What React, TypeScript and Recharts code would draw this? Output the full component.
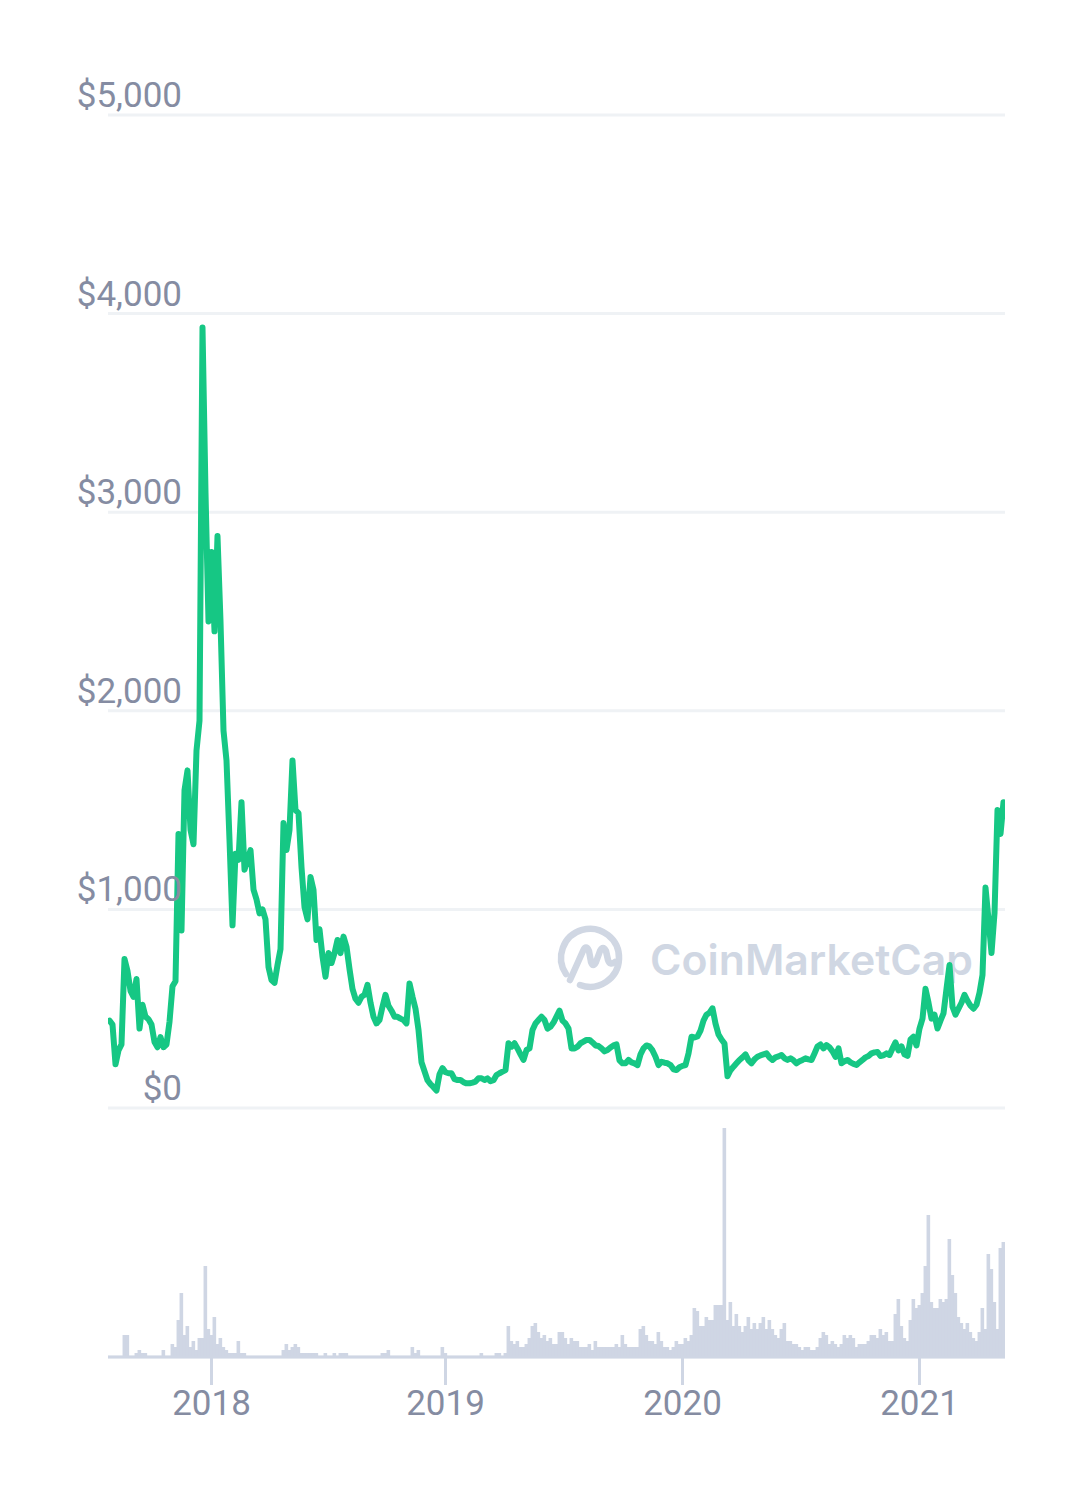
import { ComposedChart, Bar, Line, XAxis, YAxis, CartesianGrid } from 'recharts';

// price in USD, one reading per volume bar (about every 4.7 days, Jul 2017 - May 2021)
const price = [
  440, 420, 220, 290, 320, 750, 690, 590, 560, 650, 400, 520, 460, 447, 420, 332, 306, 357, 306, 320,
  434, 613, 638, 1380, 894, 1600, 1700, 1400, 1328, 1800, 1950, 3930, 3100, 2450, 2800, 2400, 2880, 2450, 1900, 1750,
  1350, 920, 1280, 1250, 1540, 1200, 1250, 1299, 1100, 1050, 980, 1000, 950, 710, 644, 630, 720, 800, 1435, 1299,
  1400, 1750, 1500, 1485, 1213, 1012, 950, 1163, 1098, 846, 900, 762, 661, 780, 730, 780, 846, 780, 863, 812,
  700, 600, 550, 530, 560, 570, 620, 530, 459, 426, 443, 510, 570, 515, 490, 460, 459, 450, 443, 426,
  627, 560, 500, 393, 230, 185, 140, 120, 105, 88, 170, 201, 180, 175, 175, 145, 141, 141, 130, 124,
  124, 128, 133, 150, 150, 141, 149, 135, 140, 166, 175, 183, 191, 326, 309, 326, 300, 270, 242, 292,
  300, 393, 426, 443, 460, 443, 400, 409, 430, 460, 490, 440, 426, 400, 300, 300, 309, 326, 334, 343,
  343, 330, 315, 312, 300, 285, 292, 305, 315, 320, 240, 225, 225, 242, 230, 225, 216, 270, 300, 315,
  310, 290, 258, 216, 233, 228, 225, 216, 195, 191, 205, 212, 216, 275, 359, 355, 360, 390, 440, 470,
  480, 502, 425, 370, 345, 325, 160, 190, 208, 225, 242, 255, 270, 240, 225, 245, 258, 265, 270, 275,
  255, 242, 255, 260, 267, 250, 242, 250, 240, 225, 235, 242, 250, 245, 242, 275, 310, 320, 300, 317,
  305, 285, 258, 300, 225, 235, 242, 230, 222, 217, 230, 242, 255, 262, 275, 280, 282, 262, 265, 275,
  267, 300, 330, 290, 310, 270, 262, 345, 359, 315, 400, 450, 600, 530, 450, 470, 400, 440, 477, 600,
  720, 510, 470, 500, 530, 570, 540, 515, 500, 520, 580, 670, 1110, 950, 780, 980, 1500, 1380, 1540,
];

// traded volume, relative units
const volume = [
  1, 1, 1, 1, 1, 22, 22, 1, 1, 4, 7, 4, 4, 1, 1, 1, 1, 1, 7, 1,
  1, 13, 10, 37, 64, 22, 31, 10, 16, 7, 19, 19, 91, 28, 22, 40, 13, 19, 10, 7,
  4, 4, 4, 16, 4, 4, 1, 1, 1, 1, 1, 1, 1, 1, 1, 1, 1, 1, 7, 13,
  7, 10, 13, 10, 4, 4, 4, 4, 4, 4, 1, 1, 4, 1, 1, 4, 1, 4, 4, 4,
  1, 1, 1, 1, 1, 1, 1, 1, 1, 1, 1, 4, 4, 7, 1, 1, 1, 1, 1, 1,
  1, 10, 4, 7, 1, 1, 1, 1, 1, 1, 1, 10, 4, 1, 1, 1, 1, 1, 1, 1,
  1, 1, 1, 1, 4, 1, 1, 1, 1, 4, 4, 1, 4, 31, 16, 13, 16, 10, 10, 13,
  19, 31, 34, 25, 19, 22, 16, 19, 13, 13, 25, 25, 19, 13, 19, 16, 16, 10, 10, 10,
  13, 7, 16, 10, 10, 10, 10, 10, 10, 13, 10, 22, 13, 10, 10, 10, 10, 28, 31, 22,
  16, 16, 13, 25, 16, 10, 10, 7, 10, 16, 13, 13, 19, 16, 22, 49, 46, 31, 31, 40,
  37, 37, 52, 52, 52, 229, 37, 55, 31, 43, 31, 25, 31, 40, 28, 34, 28, 34, 40, 28,
  37, 28, 22, 19, 28, 34, 16, 16, 13, 13, 10, 7, 10, 10, 7, 7, 10, 19, 25, 22,
  13, 16, 13, 10, 13, 22, 19, 22, 19, 10, 13, 13, 13, 16, 22, 22, 19, 28, 22, 25,
  16, 16, 43, 58, 31, 19, 16, 37, 58, 49, 52, 64, 91, 142, 55, 49, 49, 58, 55, 58,
  118, 82, 64, 40, 34, 28, 34, 25, 19, 16, 25, 49, 28, 103, 88, 55, 28, 109, 115,
];

const years = ['2018', '2019', '2020', '2021'];
const yearStart = [34, 112, 191, 270];
const priceTicks = [0, 1000, 2000, 3000, 4000, 5000];

const rows = price.map((p, i) => ({ i, price: p, vol: volume[i] }));

const W = 1080;
const H = 1496;
const TOP = 115;
const BOTTOM = 1357;
const ZERO = 1108;
const LEFT = 108;
const RIGHT = 1005;
const Y_AXIS_W = 60;
const X_AXIS_H = 80;
const plotH = BOTTOM - TOP;
const priceMin = (-(BOTTOM - ZERO) * 5000) / (ZERO - TOP);
const slot = (RIGHT - LEFT) / price.length;

const labelColor = '#858ca2';
const volColor = '#cfd6e4';
const font = 'Roboto, "Noto Sans", sans-serif';

const PriceTick = ({ y, payload }: any) => (
  <text x={182} y={y - 8} textAnchor="end" fill={labelColor} fontSize={35} fontFamily={font}>
    {'$' + payload.value.toLocaleString('en-US')}
  </text>
);

const YearTick = ({ x, y, payload }: any) => (
  <text x={x} y={y} dy={28} textAnchor="middle" fill={labelColor} fontSize={35} fontFamily={font}>
    {years[yearStart.indexOf(payload.value)]}
  </text>
);

// fill the whole time slot so neighbouring bars touch, as in the original
const VolBar = ({ x, y, width, height }: any) => {
  if (!height || height <= 0) return null;
  const cx = x + width / 2;
  return <rect x={cx - slot / 2 - 0.3} y={y} width={slot + 0.6} height={height} fill={volColor} />;
};

const Watermark = () => (
  <svg width={W} height={H} style={{ position: 'absolute', left: 0, top: 0 }}>
    <g fill="none" stroke="#d0d7e3" strokeWidth={6.5} strokeLinecap="round" strokeLinejoin="round">
      <path d="M 566 974 A 29 29 0 1 1 580 985" />
      <path d="M 570 980 L 583 951 Q 586 944 589 951 L 591 962 Q 593 968 596 962 L 600 951 Q 603 945 606 951 L 608 960 Q 610 966 615 962" />
    </g>
    <text
      x={650}
      y={975}
      fill="#d0d7e3"
      fontSize={42}
      fontWeight={600}
      fontFamily='Inter, "Noto Sans", sans-serif'
      textLength={323}
      lengthAdjust="spacingAndGlyphs"
    >
      CoinMarketCap
    </text>
  </svg>
);

export default function App() {
  return (
    <div style={{ position: 'absolute', left: 0, top: 0, width: W, height: H, background: '#fff' }}>
      <Watermark />
      <div style={{ position: 'absolute', left: 0, top: 0 }}>
        <ComposedChart
          width={W}
          height={H}
          data={rows}
          margin={{ top: TOP, right: W - RIGHT, left: LEFT - Y_AXIS_W, bottom: H - BOTTOM - X_AXIS_H }}
          barCategoryGap={0}
          barGap={0}
        >
          <CartesianGrid yAxisId="price" vertical={false} stroke="#eff2f5" strokeWidth={3} />
          <XAxis
            dataKey="i"
            type="number"
            domain={[-0.5, price.length - 0.5]}
            allowDataOverflow
            ticks={yearStart}
            interval={0}
            height={X_AXIS_H}
            tickSize={28}
            axisLine={{ stroke: volColor, strokeWidth: 3 }}
            tickLine={{ stroke: volColor, strokeWidth: 3 }}
            tick={<YearTick />}
          />
          <YAxis
            yAxisId="price"
            type="number"
            domain={[priceMin, 5000]}
            allowDataOverflow
            ticks={priceTicks}
            interval={0}
            width={Y_AXIS_W}
            axisLine={false}
            tickLine={false}
            tick={<PriceTick />}
          />
          <YAxis yAxisId="vol" type="number" domain={[0, plotH]} allowDataOverflow hide />
          <Bar
            yAxisId="vol"
            dataKey="vol"
            fill={volColor}
            barSize={3}
            shape={<VolBar />}
            isAnimationActive={false}
          />
          <Line
            yAxisId="price"
            dataKey="price"
            type="linear"
            stroke="#16c784"
            strokeWidth={6}
            strokeLinejoin="round"
            strokeLinecap="round"
            dot={false}
            activeDot={false}
            isAnimationActive={false}
          />
        </ComposedChart>
      </div>
    </div>
  );
}
